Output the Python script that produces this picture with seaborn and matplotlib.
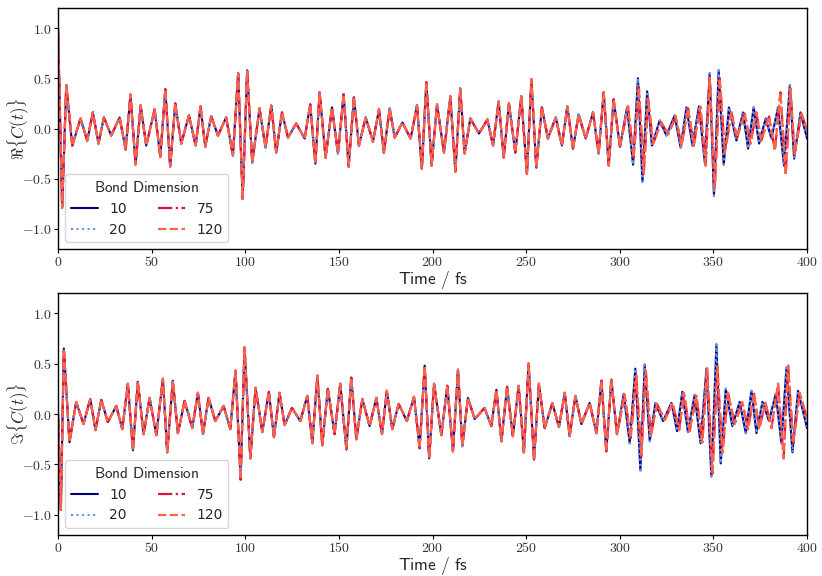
import numpy as np
import pandas as pd
import matplotlib
matplotlib.use("Agg")
import matplotlib.pyplot as plt
from matplotlib.ticker import FuncFormatter, MultipleLocator
import seaborn as sns

# ---- data: extrema (time in fs, value) ----
bond_dims = ["10", "20", "75", "120"]

# Real part, bond dimension 10 / 20
re_t = [0, 2.2, 4.4, 7.6, 12.0, 15.6, 18.6, 21.6, 24.5, 28.4, 32.9, 36.1, 38.7, 41.4, 44.1, 47.1,
        51.6, 54.6, 57.3, 59.9, 62.6, 65.8, 69.9, 73.5, 76.1, 78.6, 81.8, 85.4, 89.8, 93.4, 96.2,
        98.6, 101.0, 103.7, 107.6, 110.8, 113.9, 116.5, 119.6, 122.8, 127.2, 131.7, 134.7, 137.4,
        139.7, 142.9, 146.3, 149.5, 152.5, 155.2, 158.0, 160.7, 164.3, 168.2, 171.4, 174.0, 177.1,
        179.8, 183.9, 188.3, 191.7, 194.3, 196.7, 199.5, 202.4, 206.1, 209.5, 212.2, 214.8, 217.1,
        220.2, 224.8, 229.3, 232.3, 235.3, 238.0, 240.8, 244.2, 247.4, 250.4, 252.8, 255.4, 258.4,
        261.6, 265.8, 269.1, 272.0, 275.0, 278.0, 281.8, 285.7, 288.7, 291.4, 294.1, 296.7, 300.1,
        303.9, 307.1, 309.7, 312.1, 314.6, 317.2, 321.3, 324.9, 329.3, 332.5, 335.6, 338.8, 342.3,
        345.4, 348.0, 350.3, 352.8, 355.5, 358.3, 362.3, 365.8, 368.5, 371.5, 374.4, 377.9, 381.0,
        384.5, 387.7, 390.8, 393.1, 396.5, 400]
re_v = [1.0, -0.79, 0.43, -0.17, 0.10, -0.12, 0.16, -0.15, 0.11, -0.07, 0.11, -0.21, 0.34, -0.36,
        0.23, -0.17, 0.19, -0.28, 0.39, -0.38, 0.25, -0.15, 0.13, -0.17, 0.22, -0.18, 0.12, -0.07,
        0.11, -0.27, 0.55, -0.70, 0.58, -0.34, 0.20, -0.19, 0.23, -0.24, 0.16, -0.09, 0.05, -0.10,
        0.24, -0.35, 0.36, -0.29, 0.21, -0.25, 0.34, -0.38, 0.31, -0.17, 0.11, -0.13, 0.19, -0.24,
        0.20, -0.09, 0.06, -0.10, 0.23, -0.40, 0.46, -0.37, 0.24, -0.24, 0.32, -0.43, 0.40, -0.25,
        0.10, -0.05, 0.09, -0.17, 0.27, -0.29, 0.25, -0.24, 0.32, -0.45, 0.49, -0.39, 0.21, -0.10,
        0.11, -0.17, 0.22, -0.20, 0.14, -0.10, 0.16, -0.25, 0.36, -0.37, 0.29, -0.18, 0.21, -0.36,
        0.50, -0.53, 0.37, -0.17, 0.08, -0.07, 0.13, -0.19, 0.21, -0.17, 0.22, -0.34, 0.55, -0.67,
        0.58, -0.36, 0.21, -0.12, 0.16, -0.20, 0.21, -0.15, 0.10, -0.10, 0.21, -0.37, 0.43, -0.30,
        0.16, -0.10]

# Real part, bond dimension 75 / 120 where it departs (t > 300 fs)
re_hi_t = [304.4, 307.4, 310.2, 312.8, 315.1, 317.8, 322.2, 325.8, 329.9, 332.9, 336.5, 339.5,
           343.0, 345.9, 348.0, 350.7, 353.4, 356.1, 359.6, 362.6, 366.7, 369.8, 372.9, 375.6,
           379.7, 382.8, 385.8, 388.6, 391.1, 393.4, 397.0, 400]
re_hi_v = [0.22, -0.29, 0.41, -0.45, 0.30, -0.15, 0.06, -0.06, 0.12, -0.17, 0.20, -0.17, 0.22,
           -0.37, 0.51, -0.60, 0.50, -0.24, 0.16, -0.09, 0.15, -0.15, 0.16, -0.12, 0.12, -0.22,
           0.36, -0.46, 0.40, -0.25, 0.15, -0.02]

# Imaginary part, bond dimension 10 / 20
im_t = [0, 1.5, 3.1, 6.1, 9.7, 13.6, 17.2, 20.0, 23.1, 26.6, 31.1, 34.3, 37.3, 40.0, 42.6, 45.7,
        48.9, 52.5, 56.0, 58.3, 61.3, 64.0, 67.6, 71.7, 74.7, 77.4, 80.4, 84.0, 88.4, 92.0, 94.8,
        97.5, 99.6, 102.7, 105.5, 109.1, 112.6, 115.3, 118.3, 121.0, 124.9, 129.4, 133.1, 135.8,
        138.5, 141.1, 144.1, 147.7, 150.7, 154.0, 156.6, 159.3, 162.5, 166.4, 170.0, 173.0, 175.6,
        178.5, 181.9, 186.3, 190.1, 193.1, 195.8, 198.2, 200.8, 204.7, 207.9, 210.9, 213.6, 215.9,
        218.9, 222.5, 227.8, 231.4, 234.1, 236.8, 239.8, 242.9, 246.0, 248.8, 251.3, 254.2, 256.8,
        259.9, 264.0, 267.5, 270.6, 273.2, 276.3, 279.5, 283.9, 287.5, 290.2, 292.8, 295.5, 298.5,
        302.1, 305.3, 308.3, 311.0, 313.3, 316.0, 319.0, 323.1, 327.6, 330.6, 333.4, 336.4, 340.0,
        343.1, 346.3, 348.9, 351.6, 353.9, 356.6, 360.1, 364.0, 367.3, 370.3, 373.0, 376.2, 379.7,
        383.3, 386.3, 389.0, 392.2, 395.2, 400]
im_v = [0.0, -0.95, 0.65, -0.28, 0.12, -0.10, 0.15, -0.16, 0.14, -0.08, 0.08, -0.15, 0.30, -0.36,
        0.32, -0.20, 0.16, -0.21, 0.35, -0.38, 0.33, -0.19, 0.13, -0.14, 0.21, -0.20, 0.16, -0.07,
        0.08, -0.15, 0.43, -0.65, 0.66, -0.44, 0.26, -0.18, 0.22, -0.23, 0.21, -0.11, 0.06, -0.07,
        0.18, -0.29, 0.38, -0.31, 0.25, -0.20, 0.30, -0.35, 0.36, -0.25, 0.15, -0.12, 0.16, -0.20,
        0.23, -0.15, 0.10, -0.07, 0.17, -0.34, 0.48, -0.44, 0.30, -0.21, 0.28, -0.37, 0.44, -0.32,
        0.16, -0.05, 0.06, -0.12, 0.24, -0.27, 0.27, -0.22, 0.28, -0.38, 0.50, -0.45, 0.30, -0.14,
        0.11, -0.13, 0.21, -0.22, 0.18, -0.10, 0.11, -0.19, 0.33, -0.37, 0.34, -0.20, 0.20, -0.29,
        0.45, -0.56, 0.49, -0.27, 0.11, -0.07, 0.11, -0.17, 0.22, -0.18, 0.19, -0.29, 0.45, -0.62,
        0.69, -0.49, 0.25, -0.12, 0.12, -0.19, 0.23, -0.19, 0.12, -0.07, 0.20, -0.29, 0.46, -0.38,
        0.23, -0.14]

# Imaginary part, bond dimension 75 / 120 where it departs (t > 300 fs)
im_hi_t = [302.6, 305.8, 308.8, 311.5, 313.9, 316.5, 319.9, 324.0, 328.1, 331.7, 334.3, 337.3,
           340.9, 344.1, 346.6, 349.5, 352.1, 354.8, 357.8, 361.4, 365.4, 368.5, 371.7, 374.4,
           377.8, 381.0, 384.5, 387.5, 389.9, 392.6, 396.1, 400]
im_hi_v = [0.19, -0.24, 0.38, -0.42, 0.43, -0.22, 0.10, -0.06, 0.11, -0.16, 0.21, -0.17, 0.18,
           -0.28, 0.46, -0.59, 0.47, -0.39, 0.21, -0.10, 0.12, -0.15, 0.20, -0.15, 0.11, -0.14,
           0.30, -0.44, 0.48, -0.29, 0.21, -0.05]

split_t = 300.5


def build(t_lo, v_lo, t_hi, v_hi):
    lo = pd.DataFrame({"t": t_lo, "v": v_lo})
    hi = pd.concat([lo[lo["t"] < split_t], pd.DataFrame({"t": t_hi, "v": v_hi})],
                   ignore_index=True)
    return {"10": lo, "20": lo, "75": hi, "120": hi}


panels = [
    (build(re_t, re_v, re_hi_t, re_hi_v), r"$\Re\{C(t)\}$"),
    (build(im_t, im_v, im_hi_t, im_hi_v), r"$\Im\{C(t)\}$"),
]

styles = {
    "10": dict(color="#000080", linestyle="-", lw=1.5),
    "20": dict(color="#6495ED", linestyle=":", lw=1.5),
    "75": dict(color="#DC143C", linestyle="-.", lw=1.6),
    "120": dict(color="#FF6347", linestyle="--", lw=1.6),
}


def sf(s):
    return r"$\mathsf{" + s.replace(" ", r"\ ") + "}$"


# ---- figure ----
sns.set_theme(style="ticks")
plt.rcParams["font.family"] = ["DejaVu Sans"]
plt.rcParams["mathtext.fontset"] = "cm"

fig = plt.figure(figsize=(8.22, 5.76), dpi=100)
ax_top = fig.add_axes([0.0706, 0.5677, 0.9112, 0.4184])
ax_bot = fig.add_axes([0.0706, 0.0712, 0.9112, 0.4201])

for ax, (series, ylab) in zip([ax_top, ax_bot], panels):
    for bd in bond_dims:
        df = series[bd]
        sns.lineplot(data=df, x="t", y="v", ax=ax, label=bd, sort=False,
                     estimator=None, **styles[bd])
    ax.set_xlim(0, 400)
    ax.set_ylim(-1.2, 1.2)
    ax.xaxis.set_major_locator(MultipleLocator(50))
    ax.yaxis.set_major_locator(MultipleLocator(0.5))
    ax.xaxis.set_major_formatter(FuncFormatter(lambda v, p: f"${v:.0f}$"))
    ax.yaxis.set_major_formatter(FuncFormatter(lambda v, p: f"${v:.1f}$"))
    ax.tick_params(axis="both", labelsize=10, length=3, width=0.8, color="black",
                   labelcolor="#333333", pad=1.5)
    ax.set_xlabel(sf("Time / fs"), fontsize=12.5)
    ax.set_ylabel(ylab, fontsize=12)
    ax.xaxis.set_label_coords(0.5, -0.082)
    ax.yaxis.set_label_coords(-0.036, 0.5)
    for sp in ax.spines.values():
        sp.set_visible(True)
        sp.set_color("black")
        sp.set_linewidth(1.0)
    leg = ax.legend(title=sf("Bond Dimension"), ncol=2, loc="lower left", fontsize=10,
                    title_fontsize=11, handlelength=2.0, columnspacing=2.2,
                    frameon=True, borderaxespad=0.5)
    leg.get_frame().set_edgecolor("#cccccc")

fig.savefig("out.png", dpi=100)
